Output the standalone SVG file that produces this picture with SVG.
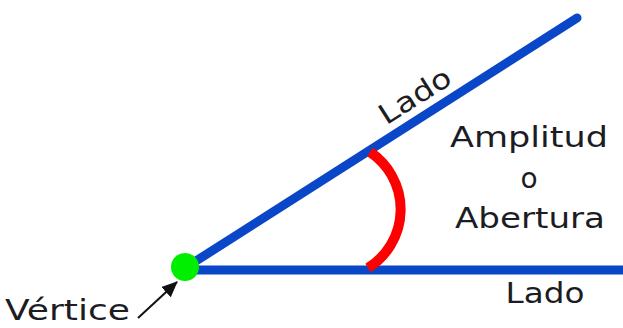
<svg xmlns="http://www.w3.org/2000/svg" width="623" height="328" viewBox="0 0 623 328">
<defs>
<style>
.t{font-family:"DejaVu Sans","Open Sans",sans-serif;font-size:28px;fill:#1c1c24;}
.side{stroke:#0a46c8;stroke-width:9;fill:none;}
</style>
<marker id="ah" markerWidth="16" markerHeight="14" refX="15" refY="7" orient="auto" markerUnits="userSpaceOnUse"><path d="M0,0 L16,7 L0,14 Z" fill="#111"/></marker>
</defs>
<g id="connectors">
<line class="side" x1="185" y1="270" x2="623" y2="270"/>
<line class="side" x1="185" y1="268" x2="577" y2="18" stroke-linecap="round"/>
<path d="M370 152 A69 69 0 0 1 368 268" stroke="#ff0000" stroke-width="10" fill="none"/>
<line x1="138" y1="318" x2="177" y2="282" stroke="#111" stroke-width="2" marker-end="url(#ah)"/>
</g>
<g id="vertex"><circle cx="185" cy="267" r="14" fill="#00ee00"/></g>
<g id="label-vertice"><text class="t" x="5" y="320" textLength="125" lengthAdjust="spacingAndGlyphs">Vértice</text></g>
<g id="label-lado-top"><text class="t" x="0" y="0" text-anchor="middle" textLength="80" lengthAdjust="spacingAndGlyphs" transform="translate(420,104) rotate(-32.5)">Lado</text></g>
<g id="label-lado-bottom"><text class="t" x="545" y="303" text-anchor="middle" textLength="79" lengthAdjust="spacingAndGlyphs">Lado</text></g>
<g id="label-amplitud">
<text class="t" x="529" y="147" text-anchor="middle" textLength="158" lengthAdjust="spacingAndGlyphs">Amplitud</text>
<text class="t" x="529" y="188" text-anchor="middle">o</text>
<text class="t" x="530" y="228" text-anchor="middle" textLength="150" lengthAdjust="spacingAndGlyphs">Abertura</text>
</g>
</svg>
